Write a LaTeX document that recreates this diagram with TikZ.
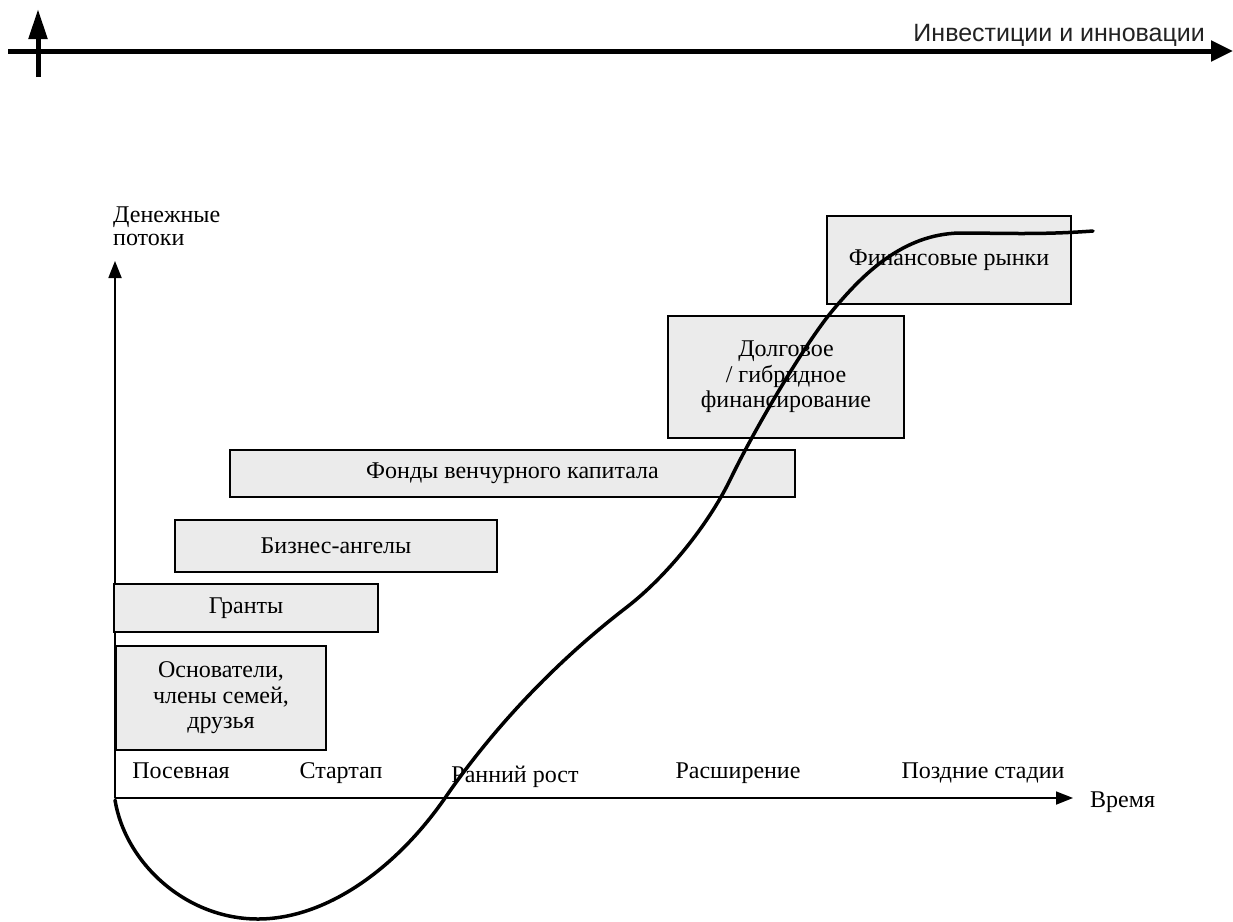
\documentclass[tikz,border=0pt]{standalone}
\usepackage{fontspec}
\setmainfont{Liberation Serif}
\newfontfamily\lsans{Liberation Sans}
\usetikzlibrary{arrows.meta}
\definecolor{boxfill}{HTML}{EBEBEB}
\definecolor{darktext}{HTML}{222222}
\tikzset{
  fund/.style={draw=black, line width=2pt, fill=boxfill, align=center, inner sep=0pt,
    font=\fontsize{24}{25.5}\selectfont},
  stage/.style={font=\fontsize{24}{23}\selectfont, inner sep=0pt},
  axisthin/.style={line width=1.8pt, -{Triangle[length=17pt,width=13pt]}},
  axisthick/.style={line width=5pt},
  curve/.style={line width=3.5pt, line cap=round, line join=round}
}
\begin{document}
\begin{tikzpicture}[x=1pt,y=-1pt]
\useasboundingbox (0,0) rectangle (1233,921);
% top thick axes
\coordinate (TL) at (8,51);
\coordinate (TR) at (1233,51);
\coordinate (VB) at (38,77);
\coordinate (VT) at (38,9);
\draw[axisthick, -{Triangle[length=22pt,width=20pt]}] (TL) -- (TR);
\draw[axisthick, -{Triangle[length=30pt,width=18pt]}] (VB) -- (VT);
\node[font=\lsans\fontsize{25}{28}\selectfont, text=darktext, anchor=base east, inner sep=0pt] (inv) at (1205,41) {Инвестиции и инновации};

% main axes
\coordinate (O) at (115,798);
\coordinate (Ytip) at (115,261);
\coordinate (Xtip) at (1073,798);
\draw[axisthin] (O) -- (Ytip);
\draw[axisthin] (O) -- (Xtip);
\node[stage, anchor=base west] (time) at (1090,807) {Время};
\node[stage, anchor=base west] (money1) at (113,222) {Денежные};
\node[stage, anchor=base west] (money2) at (113,245) {потоки};

% boxes
\node[fund, minimum width=210pt, minimum height=104pt] (found) at (221,698) {Основатели,\\члены семей,\\друзья};
\node[fund, minimum width=264pt, minimum height=48pt] (grant) at (246,608) {Гранты};
\node[fund, minimum width=322pt, minimum height=52pt] (angel) at (336,546) {Бизнес-ангелы};
\node[fund, minimum width=565pt, minimum height=47pt] (vc) at (512.5,473.5) {Фонды венчурного капитала};
\node[fund, minimum width=236pt, minimum height=122pt] (debt) at (786,377) {Долговое\\/ гибридное\\финансирование};
\node[fund, minimum width=244pt, minimum height=88pt] (mkt) at (949,260) {Финансовые рынки};

% stages
\node[stage, anchor=base] (s1) at (181,778) {Посевная};
\node[stage, anchor=base] (s2) at (341,778) {Стартап};
\node[stage, anchor=base] (s3) at (515,782) {Ранний рост};
\node[stage, anchor=base] (s4) at (738,778) {Расширение};
\node[stage, anchor=base] (s5) at (983,778) {Поздние стадии};

% curve
\draw[curve] (115,800)
  .. controls (125,862) and (185,919) .. (258,919)
  .. controls (325,919) and (395,870) .. (445,798)
  .. controls (485,740) and (545,670) .. (627,607)
  .. controls (667,576) and (708,525) .. (730,480)
  .. controls (755,428) and (806,342) .. (833,310)
  .. controls (863,274) and (903,234) .. (960,233)
  .. controls (1000,233) and (1040,235) .. (1093,231);
\end{tikzpicture}
\end{document}
